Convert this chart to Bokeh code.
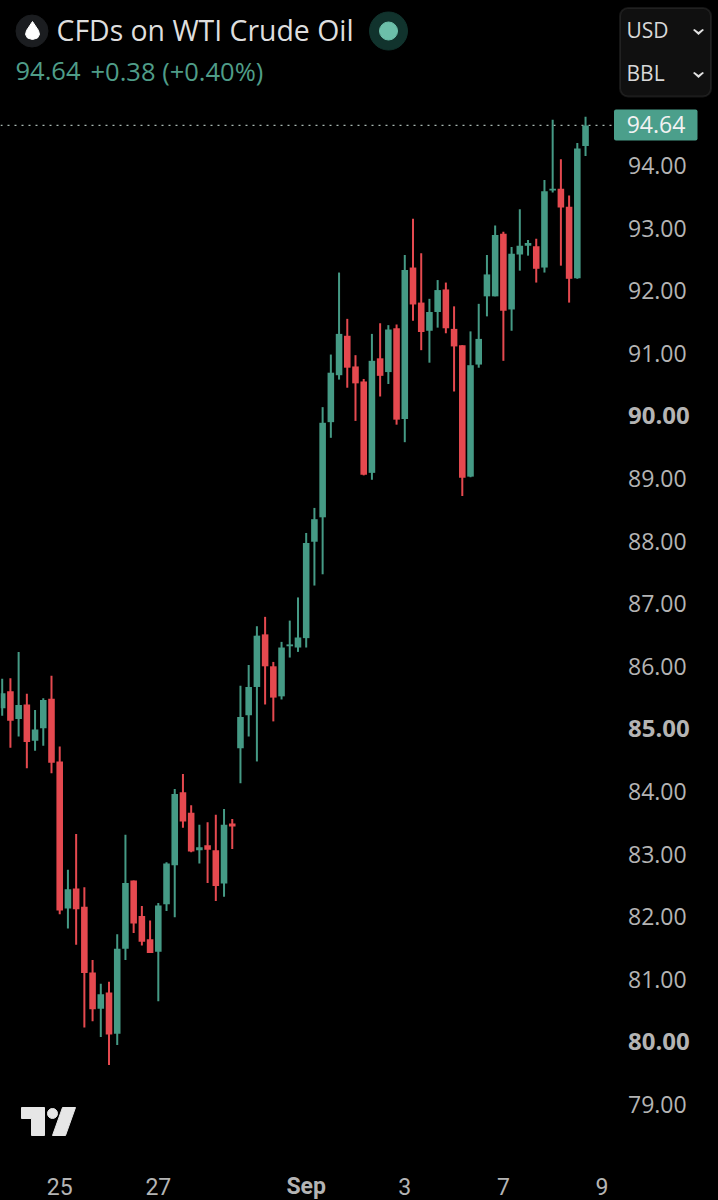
from bokeh.plotting import figure, ColumnDataSource
from bokeh.embed import file_html
from bokeh.resources import INLINE
from bokeh.core.properties import value
from bokeh.models import (Label, BoxAnnotation, PolyAnnotation, GlobalInlineStyleSheet)

# ---------- data ----------
opens = [85.33,85.60,85.16,85.39,84.81,85.01,85.48,84.48,82.13,82.45,82.16,81.11,80.53,80.79,80.13,81.49,
         82.58,82.01,81.64,81.44,82.20,82.82,83.99,83.66,83.06,83.14,83.06,82.53,83.49,84.69,85.22,85.67,
         86.51,86.00,85.52,86.32,86.30,86.45,87.99,88.38,89.90,90.65,91.28,90.79,90.55,89.09,90.92,90.70,
         91.40,89.95,92.37,91.81,91.36,91.66,92.02,91.39,91.13,89.03,90.82,91.91,91.91,92.91,91.70,92.58,
         92.72,92.71,92.37,93.60,93.63,93.34,92.20,94.31]
highs = [85.80,85.81,86.23,85.56,85.30,85.49,85.85,84.72,82.75,83.32,82.47,81.31,80.93,80.96,81.72,83.31,
         82.58,82.17,81.94,82.22,82.87,84.04,84.28,83.78,83.47,83.51,83.63,83.72,83.56,85.69,86.02,86.64,
         86.79,86.07,86.39,86.73,87.10,88.13,88.53,90.14,90.98,92.29,91.55,90.97,90.59,91.31,91.48,91.45,
         91.46,92.57,93.15,92.60,91.87,92.17,92.13,91.75,91.13,91.35,91.79,92.57,93.04,92.94,92.70,93.30,
         92.81,92.83,93.77,94.73,94.10,93.52,94.36,94.78]
lows = [85.21,84.70,84.88,84.37,84.65,84.73,84.29,82.04,81.81,81.55,80.23,80.33,80.08,79.63,79.95,81.31,
        81.74,81.54,81.42,80.65,82.09,81.99,83.42,83.03,82.85,82.54,82.25,82.32,83.08,84.13,84.88,84.48,
        85.39,85.12,85.47,86.14,86.23,86.30,87.29,87.47,89.65,90.58,90.45,89.92,89.05,88.98,90.31,90.51,
        89.86,89.58,91.52,91.05,90.85,91.41,91.32,90.39,88.72,89.02,90.77,91.59,91.91,90.88,91.36,92.32,
        92.56,92.13,92.29,93.57,92.40,91.81,92.19,94.15]
closes = [85.57,85.13,85.38,84.79,84.99,85.46,84.46,82.10,82.44,82.12,81.10,80.52,80.76,80.12,81.49,82.54,
          81.89,81.60,81.42,82.18,82.85,83.96,83.52,83.04,83.11,83.07,82.49,83.47,83.44,85.19,85.67,86.49,
          86.00,85.50,86.30,86.35,86.46,87.97,88.35,89.89,90.69,91.31,90.77,90.52,89.06,90.88,90.64,91.38,
          89.94,92.33,91.78,91.34,91.66,92.01,91.40,91.11,89.01,90.81,91.23,92.26,92.89,91.68,92.59,92.72,
          92.76,92.35,93.59,93.63,93.33,92.19,94.27,94.64]
price_ticks = [79,81,82,83,84,86,87,88,89,91,92,93,94]
bold_prices = [80,85,90]
date_ticks = [7,19,49,61,73]
date_labels = ["25","27","3","7","9"]
bold_date_ticks = [37]
bold_date_labels = ["Sep"]
last_price = 94.64
last_text = "94.64"
title = "CFDs on WTI Crude Oil"
change = "+0.38 (+0.40%)"

GREEN, RED = "#459a85", "#e5494f"
FONT = "Open Sans"
DATE_FONT = "Roboto"
AXIS_C = "#b4b4b4"
AXIS_SIZE = "23px"

# pixel of the photographed page -> data, for furniture only
dx = lambda px: (px - 1.7) / 8.216
dy = lambda py: 94 - (py - 165) / 62.6

p = figure(width=718, height=1200, min_border=0,
           x_range=(dx(0), dx(718)), y_range=(dy(1200), dy(0)),
           output_backend="svg", toolbar_location=None, x_axis_location=None, y_axis_location=None,
           background_fill_color="#000000", border_fill_color="#000000", outline_line_color=None)
p.grid.visible = False
p.stylesheets = [GlobalInlineStyleSheet(css="html,body{background:#000000}")]

def label(text, px, py, size, color, style="normal", align="left"):
    p.add_layout(Label(x=dx(px), y=dy(py), text=text, text_font=FONT, text_font_size=size, text_color=color,
                       text_font_style=style, text_align=align, text_baseline="middle"))

# price scale labels
p.text([dx(627.5)] * len(price_ticks), price_ticks, text=[f"{t}.00" for t in price_ticks], text_font=value(FONT),
       text_font_size=AXIS_SIZE, text_color=AXIS_C, text_align="left", text_baseline="middle")
p.text([dx(627.5)] * len(bold_prices), bold_prices, text=[f"{t}.00" for t in bold_prices], text_font=value(FONT),
       text_font_size="24px", text_font_style="bold", text_color=AXIS_C, text_align="left", text_baseline="middle")
# time scale labels
p.text(date_ticks, [dy(1186)] * len(date_ticks), text=date_labels, text_font=value(DATE_FONT),
       text_font_size=AXIS_SIZE, text_color=AXIS_C, text_align="center", text_baseline="middle")
p.text(bold_date_ticks, [dy(1186)] * len(bold_date_ticks), text=bold_date_labels, text_font=value(DATE_FONT),
       text_font_size=AXIS_SIZE, text_font_style="bold", text_color=AXIS_C, text_align="center", text_baseline="middle")

# last price line
p.segment([dx(0)], [last_price], [dx(612)], [last_price], line_color="#a8b8b2", line_width=1.3, line_dash="2 5")

# candles
idx = list(range(len(opens)))
src = ColumnDataSource(dict(x=idx, o=opens, h=highs, l=lows, c=closes,
                            col=[GREEN if c >= o else RED for o, c in zip(opens, closes)]))
p.segment("x", "h", "x", "l", source=src, color="col", line_width=2)
p.vbar("x", 0.8, "o", "c", source=src, fill_color="col", line_color=None)

# price tag
p.add_layout(BoxAnnotation(left=dx(613.5), right=dx(697), top=dy(109), bottom=dy(140), fill_color="#4b9f8b",
                           fill_alpha=1, line_color=None, border_radius=2))
label(last_text, 655.5, 124, AXIS_SIZE, "#f2f2f2", align="center")

# header
p.circle([dx(31.5)], [dy(30.5)], radius=16, radius_units="screen", color="#1b1d20")
p.patch([dx(v) for v in (32, 26, 25, 27, 32, 37, 39, 38)], [dy(v) for v in (21, 30, 34, 37.5, 39, 37.5, 34, 30)], color="#ffffff")
p.circle([dx(388)], [dy(30.5)], radius=19, radius_units="screen", color="#11332d")
p.circle([dx(388)], [dy(30.5)], radius=9, radius_units="screen", color="#6cbfa9")
label(title, 56, 29.5, "28.4px", "#dedede")
label(last_text, 15, 70.5, "25.5px", "#4f9d88")
label(change, 90, 70.5, "25.5px", "#4f9d88")

# dropdown box
p.add_layout(BoxAnnotation(left=dx(619.5), right=dx(710.5), top=dy(7.5), bottom=dy(96), fill_color="#101010", fill_alpha=1,
                           line_color="#4a4a4a", line_width=2, border_radius=8))
label("USD", 626, 29, "21px", "#d8d8d8")
label("BBL", 626, 72, "21px", "#d8d8d8")
for cy in (31.5, 74.5):
    p.add_layout(PolyAnnotation(xs=[dx(692.5), dx(694), dx(698), dx(702), dx(703.5), dx(698)],
                                ys=[dy(cy-2), dy(cy-3), dy(cy), dy(cy-3), dy(cy-2), dy(cy+3)],
                                fill_color="#e0e0e0", fill_alpha=1, line_color=None))

# logo
LOGO = "#e6e6e6"
p.patch([dx(v) for v in (21, 44, 44, 31, 31, 21)], [dy(v) for v in (1107, 1107, 1135, 1135, 1118, 1118)], color=LOGO)
p.circle([dx(52)], [dy(1113)], radius=5, radius_units="screen", color=LOGO)
p.patch([dx(v) for v in (62, 75, 65, 52)], [dy(v) for v in (1107, 1107, 1135, 1135)], color=LOGO)

open("out.html", "w").write(file_html(p, INLINE))
